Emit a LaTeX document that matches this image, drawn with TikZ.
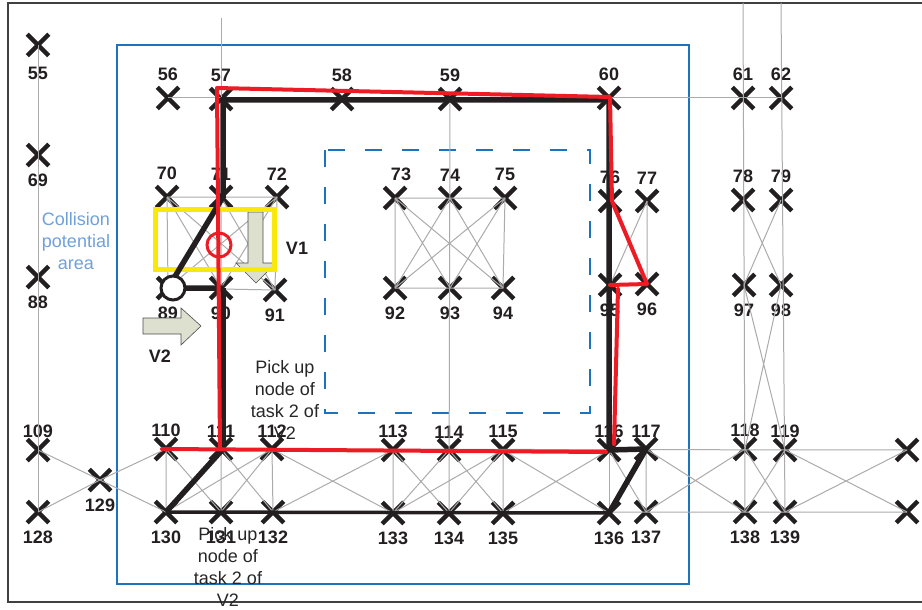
\documentclass[tikz,border=0pt]{standalone}
\usepackage{fontspec}
\setmainfont{Liberation Sans}
\usetikzlibrary{shapes.misc}
\definecolor{pathred}{RGB}{237,28,36}
\definecolor{pathblack}{RGB}{35,31,32}
\definecolor{zoneblue}{RGB}{30,115,190}
\definecolor{noteblue}{RGB}{110,160,220}
\definecolor{warnyel}{RGB}{250,232,10}
\definecolor{arrowfill}{RGB}{221,224,206}
\tikzset{
  xmark/.style={cross out, draw=pathblack, line width=4.5pt, minimum size=17pt, inner sep=0pt},
  lbl/.style={font=\fontsize{18}{18}\selectfont\bfseries, text=pathblack, inner sep=0pt},
  lblabove/.style={yshift=6pt},
  lblbelow/.style={yshift=-8pt},
  link/.style={draw=black!33, line width=1pt},
  route1/.style={draw=pathred, line width=4pt, line join=round, line cap=round},
  route2/.style={draw=pathblack, line width=5.5pt, line join=miter},
  zone/.style={draw=zoneblue, line width=1.8pt},
  blockarrow/.style={fill=arrowfill, draw=gray!60!black, line width=0.6pt},
  note/.style={align=center, font=\fontsize{18}{22}\selectfont, text=black!85, inner sep=0pt}
}
\newcommand{\waypt}[4]{\node[xmark, label={[lbl, lbl#3]#3:#4}] (#1) at (#2) {};}

\begin{document}
\begin{tikzpicture}[x=1pt, y=-1pt]
  \useasboundingbox (0,0) rectangle (922,610);
  \draw[line width=1.1pt, black!75] (922,3) -- (8,3) -- (8,602) -- (922,602);
  \draw[zone] (117,45) rectangle (689,584);
  \draw[zone, dash pattern=on 17pt off 20pt] (325,150) rectangle (590,413);

  % way points
  \node[xmark, label={[lbl, yshift=-11pt]below:55}] (n55) at (38,45) {};
  \waypt{n56}{168,98}{above}{56}
  \waypt{n57}{221,99}{above}{57}
  \waypt{n58}{342,99}{above}{58}
  \waypt{n59}{450,99}{above}{59}
  \waypt{n60}{609,98}{above}{60}
  \waypt{n61}{743,98}{above}{61}
  \waypt{n62}{781,98}{above}{62}
  \waypt{n69}{38,155}{below}{69}
  \waypt{n70}{167,197}{above}{70}
  \waypt{n71}{221,197}{above}{71}
  \waypt{n72}{277,197}{above}{72}
  \node[xmark, label={[lbl, lblabove, xshift=6pt]above:73}] (n73) at (395,198) {};
  \waypt{n74}{450,198}{above}{74}
  \waypt{n75}{505,198}{above}{75}
  \waypt{n76}{610,201}{above}{76}
  \waypt{n77}{647,201}{above}{77}
  \waypt{n78}{743,200}{above}{78}
  \waypt{n79}{781,200}{above}{79}
  \waypt{n88}{38,277}{below}{88}
  \waypt{n89}{168,288}{below}{89}
  \waypt{n90}{221,288}{below}{90}
  \waypt{n91}{275,290}{below}{91}
  \waypt{n92}{395,288}{below}{92}
  \waypt{n93}{450,288}{below}{93}
  \waypt{n94}{503,288}{below}{94}
  \waypt{n95}{610,285}{below}{95}
  \waypt{n96}{647,284}{below}{96}
  \waypt{n97}{744,285}{below}{97}
  \waypt{n98}{781,285}{below}{98}
  \begin{scope}[lblabove/.style={yshift=1pt}]
    \waypt{n109}{38,450}{above}{109}
    \waypt{n110}{166,449}{above}{110}
    \waypt{n111}{221,449}{above}{111}
    \waypt{n112}{272,449}{above}{112}
    \waypt{n113}{393,450}{above}{113}
    \waypt{n114}{449,450}{above}{114}
    \waypt{n115}{503,450}{above}{115}
    \waypt{n116}{609,450}{above}{116}
    \waypt{n117}{646,449}{above}{117}
    \waypt{n118}{745,449}{above}{118}
    \waypt{n119}{785,450}{above}{119}
  \end{scope}
  \node[xmark] (east1) at (907,450) {};
  \waypt{n128}{38,512}{below}{128}
  \waypt{n129}{100,480}{below}{129}
  \waypt{n130}{166,512}{below}{130}
  \waypt{n131}{221,512}{below}{131}
  \waypt{n132}{273,512}{below}{132}
  \waypt{n133}{393,513}{below}{133}
  \waypt{n134}{449,513}{below}{134}
  \waypt{n135}{503,513}{below}{135}
  \waypt{n136}{609,513}{below}{136}
  \waypt{n137}{646,512}{below}{137}
  \waypt{n138}{745,512}{below}{138}
  \waypt{n139}{785,512}{below}{139}
  \node[xmark] (east2) at (907,512) {};
  \coordinate (top57) at (221,18);
  \coordinate (top61) at (743,3);
  \coordinate (top62) at (781,3);

  % grey links
  \draw[link] (n55.center) -- (n128.center);
  \draw[link] (top57) -- (n57.center);
  \draw[link] (top61) -- (n138.center);
  \draw[link] (top62) -- (n139.center);
  \draw[link] (n59.center) -- (n134.center);
  \draw[link] (n60.center) -- (n136.center);
  \draw[link] (n56.center) -- (n62.center);
  \draw[link] (n70.center) -- (n72.center) -- (n91.center) -- (n89.center) -- (n70.center);
  \draw[link] (n71.center) -- (n90.center) (n70.center) -- (n90.center) (n70.center) -- (n91.center)
    (n71.center) -- (n89.center) (n71.center) -- (n91.center) (n72.center) -- (n89.center) (n72.center) -- (n90.center);
  \draw[link] (n73.center) -- (n75.center) -- (n94.center) -- (n92.center) -- (n73.center);
  \draw[link] (n73.center) -- (n93.center) (n73.center) -- (n94.center) (n74.center) -- (n92.center)
    (n74.center) -- (n94.center) (n75.center) -- (n92.center) (n75.center) -- (n93.center);
  \draw[link] (n77.center) -- (n96.center) -- (n95.center) (n77.center) -- (n95.center) (n76.center) -- (n96.center);
  \draw[link] (n78.center) -- (n98.center) (n79.center) -- (n97.center) (n97.center) -- (n119.center) (n98.center) -- (n118.center);
  \draw[link] (n109.center) -- (n129.center) -- (n110.center) (n128.center) -- (n129.center) -- (n130.center);
  \draw[link] (n110.center) -- (east1.center) (n130.center) -- (east2.center);
  \draw[link] (n110.center) -- (n130.center) (n111.center) -- (n131.center) (n112.center) -- (n132.center)
    (n113.center) -- (n133.center) (n115.center) -- (n135.center) (n117.center) -- (n137.center);
  \draw[link] (n110.center) -- (n131.center) (n111.center) -- (n130.center) (n111.center) -- (n132.center)
    (n112.center) -- (n130.center) (n112.center) -- (n131.center) (n112.center) -- (n133.center)
    (n113.center) -- (n132.center) (n113.center) -- (n134.center) (n114.center) -- (n133.center)
    (n114.center) -- (n135.center) (n115.center) -- (n133.center) (n115.center) -- (n134.center)
    (n115.center) -- (n136.center) (n116.center) -- (n135.center) (n116.center) -- (n137.center)
    (n117.center) -- (n138.center) (n137.center) -- (n118.center) (n118.center) -- (n139.center)
    (n119.center) -- (n138.center) (n119.center) -- (east2.center) (east1.center) -- (n139.center);

  % vehicle direction arrows
  \draw[blockarrow] (248,212) -- (263,212) -- (263,263) -- (276,263) -- (256,283) -- (236,263) -- (248,263) -- cycle;
  \draw[blockarrow] (143,318) -- (181,318) -- (181,308) -- (201,326) -- (181,345) -- (181,334) -- (143,334) -- cycle;
  \node[draw=warnyel, line width=5pt, minimum width=119pt, minimum height=60pt, inner sep=0pt] (hotzone) at (215,239.5) {};

  % route of V2
  \draw[route2] ([xshift=2pt]n90.center) -- (n89.center) -- ([xshift=2pt]n71.center) -- ([xshift=2pt,yshift=-1pt]n57.center)
    -- ([yshift=-2pt]n60.center) -- (n116.center) -- (n117.center) -- (n136.center);
  \draw[route2, line width=3.5pt] (n136.center) -- (n130.center);
  \draw[route2] (n130.center) -- ([xshift=2pt]n111.center) -- ([xshift=2pt]n90.center);
  \node[circle, draw=pathblack, fill=white, line width=3pt, minimum size=24pt, inner sep=0pt] (start2) at (173,288) {};

  % route of V1
  \draw[route1] ([xshift=-4pt]n110.center) -- ([xshift=-3pt,yshift=-2pt]n116.center);
  \draw[route1] ([xshift=-1pt]n111.center) -- ([xshift=-4pt,yshift=11pt]n57.center) -- ([xshift=1pt,yshift=1pt]n60.center)
    -- ([xshift=2pt]n76.center) -- (n96.center) -- (n95.center);
  \draw[route1] ([xshift=8pt,yshift=-4pt]n95.center) -- ([xshift=5pt,yshift=6pt]n116.center);
  \node[circle, draw=pathred, line width=3pt, minimum size=24pt, inner sep=0pt] (meet) at (219,245) {};

  % texts
  \node[lbl] (v1) at (297,248) {V1};
  \node[lbl] (v2) at (160,356) {V2};
  \node[note, text=noteblue] (coll) at (76,241) {Collision\\potential\\area};
  \node[note] (pick1) at (285,400) {Pick up\\node of\\task 2 of\\V2};
  \node[note] (pick2) at (228,567) {Pick up\\node of\\task 2 of\\V2};
\end{tikzpicture}
\end{document}
